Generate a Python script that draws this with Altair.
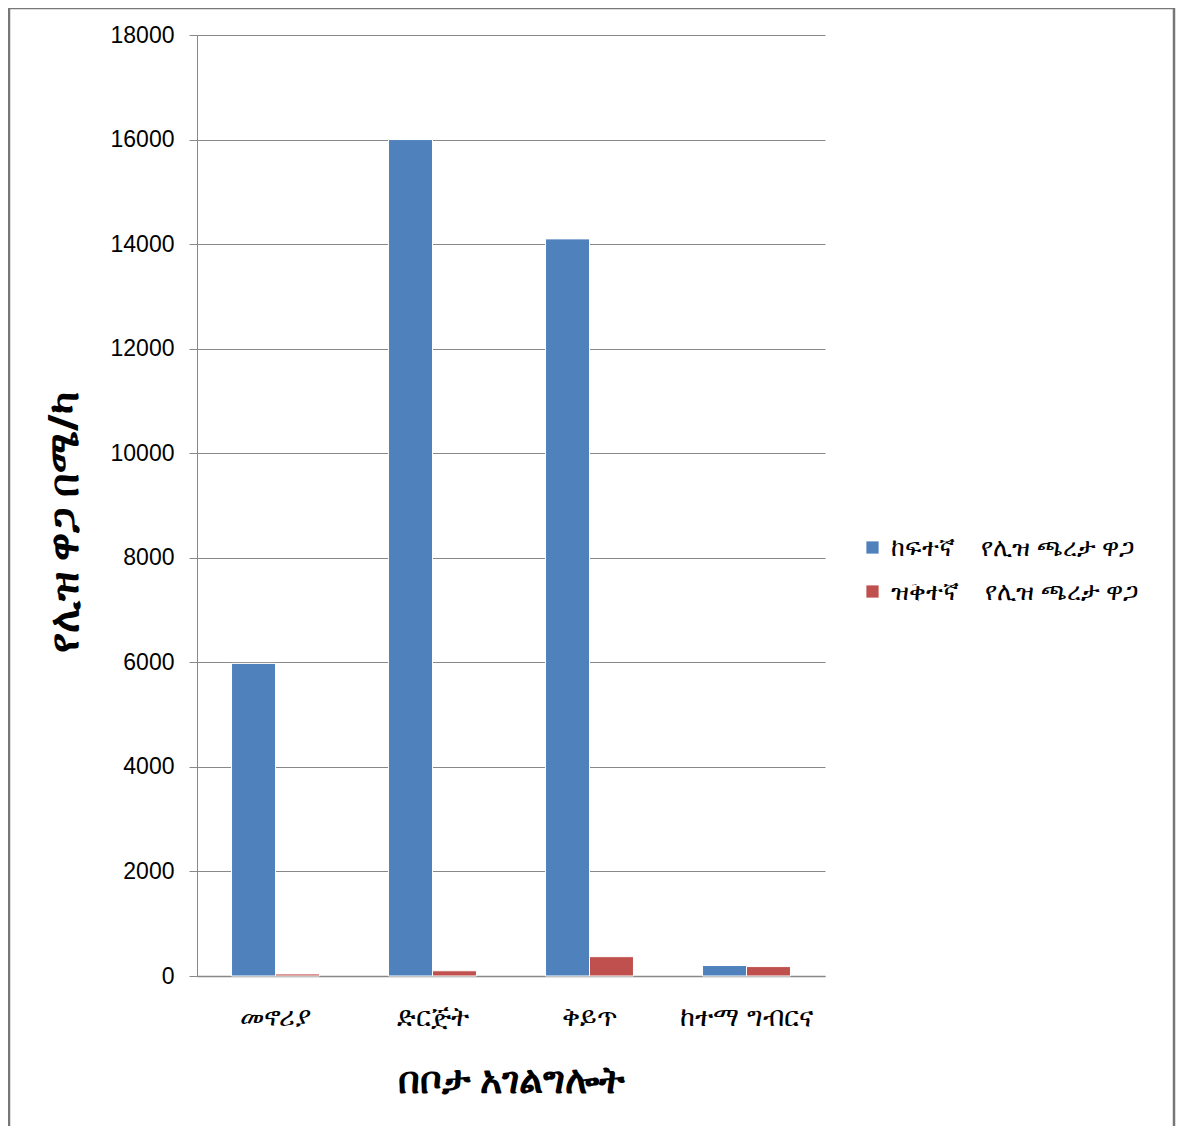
import altair as alt
import pandas as pd

categories = ["መኖሪያ", "ድርጅት", "ቅይጥ", "ከተማ ግብርና"]
series_names = ["ከፍተኛ\u00a0\u00a0\u00a0\u00a0የሊዝ ጫረታ ዋጋ", "ዝቅተኛ\u00a0\u00a0\u00a0\u00a0የሊዝ ጫረታ ዋጋ"]
high_values = [5980, 16000, 14100, 200]
low_values = [40, 100, 370, 180]
y_ticks = [0, 2000, 4000, 6000, 8000, 10000, 12000, 14000, 16000, 18000]
colors = ["#4F81BD", "#C0504D"]

rows = []
for c, h, l in zip(categories, high_values, low_values):
    rows.append({"cat": c, "series": series_names[0], "value": h})
    rows.append({"cat": c, "series": series_names[1], "value": l})
df = pd.DataFrame(rows)

FONT = "Noto Sans"

x_enc = alt.X("cat:N", sort=categories,
              scale=alt.Scale(paddingInner=0.44, paddingOuter=0.22),
              axis=alt.Axis(title="በቦታ አገልግሎት", labelAngle=0, ticks=False,
                            labelFontSize=27, labelPadding=28, labelColor="#000",
                            titleFontSize=38, titleFontWeight="bold", titlePadding=32,
                            titleColor="#000", domainColor="#888", domainWidth=1.5,
                            labelFont=FONT, titleFont=FONT))
y_enc = alt.Y("value:Q",
              scale=alt.Scale(domain=[0, 18000], nice=False),
              axis=alt.Axis(title="የሊዝ ዋጋ በሜ/ካ", values=y_ticks, format="d",
                            tickSize=8, tickColor="#888", gridColor="#888",
                            domainColor="#888", labelFontSize=23, labelPadding=15,
                            labelColor="#000", labelFont="Liberation Sans",
                            titleFontSize=41, titleFontWeight="bold", titleColor="#000",
                            titlePadding=24, titleFont=FONT, titleY=487))
xo = alt.XOffset("series:N", sort=series_names)

shadow = alt.Chart(df).mark_bar(color="#d4d4d4", xOffset=3, opacity=0.8).encode(
    x=x_enc, y=y_enc, xOffset=xo)

bars = alt.Chart(df).mark_bar(stroke="white", strokeWidth=1).encode(
    x=x_enc, y=y_enc, xOffset=xo,
    color=alt.Color("series:N", sort=series_names,
                    scale=alt.Scale(domain=series_names, range=colors),
                    legend=alt.Legend(title=None, orient="none", legendX=663, legendY=500,
                                      symbolType="square", symbolSize=150,
                                      symbolStrokeWidth=0, labelFontSize=25,
                                      labelFont=FONT, labelColor="#000",
                                      rowPadding=18, labelLimit=400, labelOffset=6)))

frame = alt.Chart(pd.DataFrame({"a": [0]})).mark_rect(
    fill=None, stroke="#777", strokeWidth=2.5).encode(
    x=alt.value(-188), x2=alt.value(977), y=alt.value(-27), y2=alt.value(1200))

chart = alt.layer(frame, shadow, bars).properties(
    width=628, height=941,
    autosize=alt.AutoSizeParams(type="none"),
    padding={"left": 189, "top": 27, "right": 351, "bottom": 150},
).configure_view(stroke=None).configure_axis(grid=True).configure_axisX(grid=False)

chart.save("out.html", embed_options={"renderer": "svg", "actions": False})
